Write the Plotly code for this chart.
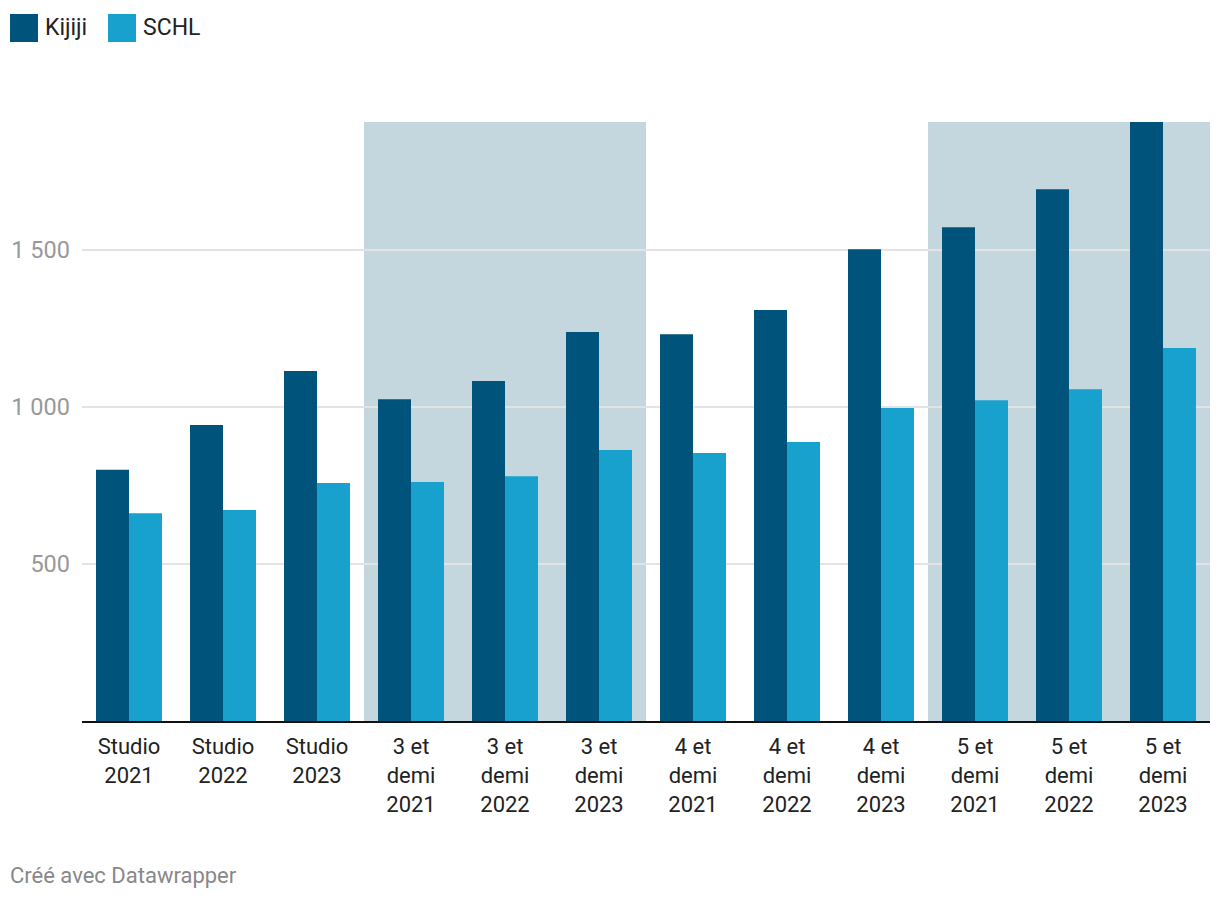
import plotly.graph_objects as go

categories = ["Studio 2021", "Studio 2022", "Studio 2023",
              "3 et demi 2021", "3 et demi 2022", "3 et demi 2023",
              "4 et demi 2021", "4 et demi 2022", "4 et demi 2023",
              "5 et demi 2021", "5 et demi 2022", "5 et demi 2023"]
tick_labels = ["Studio<br>2021", "Studio<br>2022", "Studio<br>2023",
               "3 et<br>demi<br>2021", "3 et<br>demi<br>2022", "3 et<br>demi<br>2023",
               "4 et<br>demi<br>2021", "4 et<br>demi<br>2022", "4 et<br>demi<br>2023",
               "5 et<br>demi<br>2021", "5 et<br>demi<br>2022", "5 et<br>demi<br>2023"]
kijiji = [800, 943, 1115, 1025, 1083, 1239, 1232, 1309, 1503, 1573, 1694, 1908]
schl = [662, 672, 758, 761, 780, 863, 854, 889, 997, 1022, 1057, 1188]
y_ticks = [500, 1000, 1500]
y_tick_text = ["500", "1 000", "1 500"]
shaded_groups = [(3, 5), (9, 11)]

series = [("Kijiji", kijiji, "#00537a"), ("SCHL", schl, "#18a1cd")]

# page body has an 8px margin on every side; size the figure so the page does not scroll
OFF = 8
W, H = 1220 - 2 * OFF, 900 - 2 * OFF
L, R, T = 82 - OFF, 1220 - OFF - 1210, 122 - OFF
B = (OFF + H) - 721
PW, PH = W - L - R, H - T - B

def px_x(p):  # p: page pixel
    return (p - OFF - L) / PW

def px_y(p):
    return (H - B - (p - OFF)) / PH

fig = go.Figure()
for name, vals, col in series:
    fig.add_trace(go.Bar(x=categories, y=vals, name=name, marker_color=col,
                         marker_line_width=0, showlegend=False))

shapes = []
for a, b in shaded_groups:
    shapes.append(dict(type="rect", xref="x", yref="paper", x0=a - 0.5, x1=b + 0.5,
                       y0=0, y1=1, fillcolor="#c4d7de", line_width=0, layer="below"))

annotations = []
lx = 10
for name, vals, col in series:
    shapes.append(dict(type="rect", xref="paper", yref="paper",
                       x0=px_x(lx), x1=px_x(lx + 28), y0=px_y(42), y1=px_y(14),
                       fillcolor=col, line_width=0))
    annotations.append(dict(text=name, xref="paper", yref="paper", x=px_x(lx + 33), y=px_y(28),
                            xanchor="left", yanchor="middle", showarrow=False,
                            font=dict(size=23, color="#222222", family="Roboto")))
    lx += 98

annotations.append(dict(text="Créé avec Datawrapper", xref="paper", yref="paper",
                        x=px_x(8), y=px_y(875), xanchor="left", yanchor="middle",
                        showarrow=False, font=dict(size=22, color="#888888", family="Roboto")))

fig.update_layout(
    width=W, height=H,
    margin=dict(l=L, r=R, t=T, b=B, autoexpand=False),
    paper_bgcolor="white", plot_bgcolor="white",
    barmode="group", bargap=0.298, bargroupgap=0,
    font=dict(family="Roboto", size=22, color="#222222"),
    shapes=shapes, annotations=annotations,
    showlegend=False,
)
fig.update_xaxes(tickmode="array", tickvals=categories, ticktext=tick_labels,
                 showline=True, linecolor="#111111", linewidth=2, ticks="",
                 tickfont=dict(size=22, color="#222222"), ticklabelstandoff=5,
                 showgrid=False, fixedrange=True, automargin=False)
fig.update_yaxes(range=[0, max(kijiji)], tickvals=y_ticks, ticktext=y_tick_text,
                 showgrid=True, gridcolor="#e3e3e3", gridwidth=2, zeroline=False,
                 tickfont=dict(size=23.5, color="#999999"), ticks="", ticklabelstandoff=11,
                 showline=False, fixedrange=True, automargin=False)

fig.write_html("out.html")
